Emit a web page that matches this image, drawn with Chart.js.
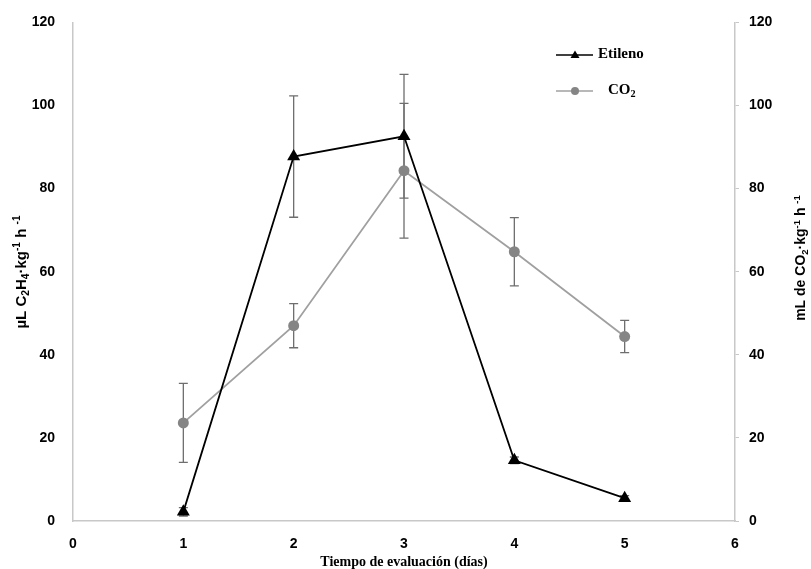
<!DOCTYPE html>
<html>
<head>
<meta charset="utf-8">
<script src="https://cdn.jsdelivr.net/npm/chart.js@4.4.1/dist/chart.umd.min.js"></script>
<style>
  html, body { margin: 0; padding: 0; background: #fff; }
  #wrap { width: 811px; height: 569px; position: relative; }
</style>
</head>
<body>
<div id="wrap"><canvas id="c" width="811" height="569"></canvas></div>
<script>
// --- data ------------------------------------------------------------------
var DAYS = [1, 2, 3, 4, 5];
var ETILENO = [2.2, 87.7, 92.6, 14.6, 5.5];
var ETILENO_ERR = [1.0, 14.6, 14.9, 0.8, 0.6];
var CO2 = [23.6, 47.0, 84.3, 64.8, 44.4];
var CO2_ERR = [9.5, 5.3, 16.2, 8.2, 3.9];
var Y_TICKS = [0, 20, 40, 60, 80, 100, 120];
var X_TICKS = [0, 1, 2, 3, 4, 5, 6];

var AXIS = "#c8c8c8";
var SANS = "'Liberation Sans', Arial, sans-serif";
var SERIF = "'Liberation Serif', 'Times New Roman', serif";

function pts(xs, ys) {
  return xs.map(function (x, i) { return { x: x, y: ys[i] }; });
}

// Rich text: segments [text, kind] where kind is "", "sub" or "sup".
function richWidth(ctx, segs, size, fam) {
  var w = 0;
  segs.forEach(function (s) {
    ctx.font = "bold " + (s[1] ? size * 0.68 : size) + "px " + fam;
    w += ctx.measureText(s[0]).width;
  });
  return w;
}
function drawRich(ctx, segs, x, y, size, fam, center) {
  ctx.textAlign = "left"; ctx.textBaseline = "alphabetic";
  if (center) x -= richWidth(ctx, segs, size, fam) / 2;
  segs.forEach(function (s) {
    var sz = s[1] ? size * 0.68 : size;
    var dy = s[1] === "sub" ? size * 0.22 : (s[1] === "sup" ? -size * 0.38 : 0);
    ctx.font = "bold " + sz + "px " + fam;
    ctx.fillText(s[0], x, y + dy);
    x += ctx.measureText(s[0]).width;
  });
}

// Error bars, drawn behind the markers through the dataset's own scales.
var errorBars = {
  id: "errorBars",
  beforeDatasetsDraw: function (chart) {
    var ctx = chart.ctx;
    chart.data.datasets.forEach(function (ds) {
      var xs = chart.scales.x, ys = chart.scales[ds.yAxisID];
      ctx.save();
      ctx.strokeStyle = "#6e6e6e";
      ctx.lineWidth = 1.3;
      ds.data.forEach(function (p, i) {
        var e = ds.errors[i];
        var px = xs.getPixelForValue(p.x);
        var top = ys.getPixelForValue(p.y + e), bot = ys.getPixelForValue(p.y - e);
        ctx.beginPath();
        ctx.moveTo(px, top); ctx.lineTo(px, bot);
        ctx.moveTo(px - 4.5, top); ctx.lineTo(px + 4.5, top);
        ctx.moveTo(px - 4.5, bot); ctx.lineTo(px + 4.5, bot);
        ctx.stroke();
      });
      ctx.restore();
    });
  }
};

// Axis titles (both read bottom-to-top) and the in-plot legend.
var decor = {
  id: "decor",
  afterDraw: function (chart) {
    var ctx = chart.ctx, a = chart.chartArea;
    ctx.save();
    ctx.fillStyle = "#000";
    ctx.save();
    ctx.translate(26, 272); ctx.rotate(-Math.PI / 2);
    drawRich(ctx, [["µL C", ""], ["2", "sub"], ["H", ""], ["4", "sub"], ["·kg", ""],
      ["-1", "sup"], [" h ", ""], ["-1", "sup"]], 0, 0, 15, SANS, true);
    ctx.restore();
    ctx.save();
    ctx.translate(805, 258); ctx.rotate(-Math.PI / 2);
    drawRich(ctx, [["mL de CO", ""], ["2", "sub"], ["·kg", ""], ["-1", "sup"],
      [" h ", ""], ["-1", "sup"]], 0, 0, 14, SANS, true);
    ctx.restore();

    drawRich(ctx, [["Tiempo de evaluación (días)", ""]], (a.left + a.right) / 2, 566, 14, SERIF, true);

    // legend
    var items = [
      { ds: chart.data.datasets[0], y: 55, tx: 598, label: [["Etileno", ""]] },
      { ds: chart.data.datasets[1], y: 91, tx: 608, label: [["CO", ""], ["2", "sub"]] }
    ];
    items.forEach(function (it) {
      ctx.strokeStyle = it.ds.borderColor; ctx.lineWidth = 1.5;
      ctx.beginPath(); ctx.moveTo(556, it.y); ctx.lineTo(593, it.y); ctx.stroke();
      ctx.fillStyle = it.ds.pointBackgroundColor;
      if (it.ds.pointStyle === "triangle") {
        ctx.beginPath();
        ctx.moveTo(575, it.y - 4.5); ctx.lineTo(579.5, it.y + 3); ctx.lineTo(570.5, it.y + 3);
        ctx.closePath(); ctx.fill();
      } else {
        ctx.beginPath(); ctx.arc(575, it.y, 4, 0, Math.PI * 2); ctx.fill();
      }
      ctx.fillStyle = "#000";
      drawRich(ctx, it.label, it.tx, it.y + 3, 15, SERIF, false);
    });
    ctx.restore();
  }
};

function yScale(pos) {
  return {
    type: "linear", position: pos, min: 0, max: 120,
    afterBuildTicks: function (s) { s.ticks = Y_TICKS.map(function (v) { return { value: v }; }); },
    afterFit: function (s) { s.width = pos === "left" ? 73 : 76; },
    grid: { display: pos === "right", drawOnChartArea: false, drawTicks: true,
      tickLength: 4, color: AXIS },
    border: { display: true, color: AXIS, width: 1.5 },
    ticks: { color: "#000", padding: pos === "left" ? 14 : 10,
      font: { family: SANS, size: 14, weight: "bold" } }
  };
}

new Chart(document.getElementById("c").getContext("2d"), {
  type: "line",
  data: {
    datasets: [
      { label: "Etileno", data: pts(DAYS, ETILENO), errors: ETILENO_ERR, yAxisID: "y",
        borderColor: "#000", borderWidth: 1.8, pointStyle: "triangle", pointRadius: 7.5,
        pointBackgroundColor: "#000", pointBorderColor: "#000", pointBorderWidth: 0,
        tension: 0, order: 1 },
      { label: "CO₂", data: pts(DAYS, CO2), errors: CO2_ERR, yAxisID: "y1",
        borderColor: "#a0a0a0", borderWidth: 1.8, pointStyle: "circle", pointRadius: 5.5,
        pointBackgroundColor: "#858585", pointBorderColor: "#858585", pointBorderWidth: 0,
        tension: 0, order: 2 }
    ]
  },
  options: {
    responsive: false, animation: false,
    layout: { padding: { top: 22, left: 0, right: 0, bottom: 0 } },
    plugins: { legend: { display: false }, tooltip: { enabled: false } },
    scales: {
      x: {
        type: "linear", min: 0, max: 6,
        afterBuildTicks: function (s) {
          s.ticks = X_TICKS.map(function (v) { return { value: v }; });
        },
        afterFit: function (s) { s.height = 48; },
        grid: { display: false },
        border: { display: true, color: AXIS, width: 1.5 },
        ticks: { color: "#000", padding: 7, font: { family: SANS, size: 14, weight: "bold" } }
      },
      y: yScale("left"),
      y1: yScale("right")
    }
  },
  plugins: [errorBars, decor]
});
</script>
</body>
</html>
